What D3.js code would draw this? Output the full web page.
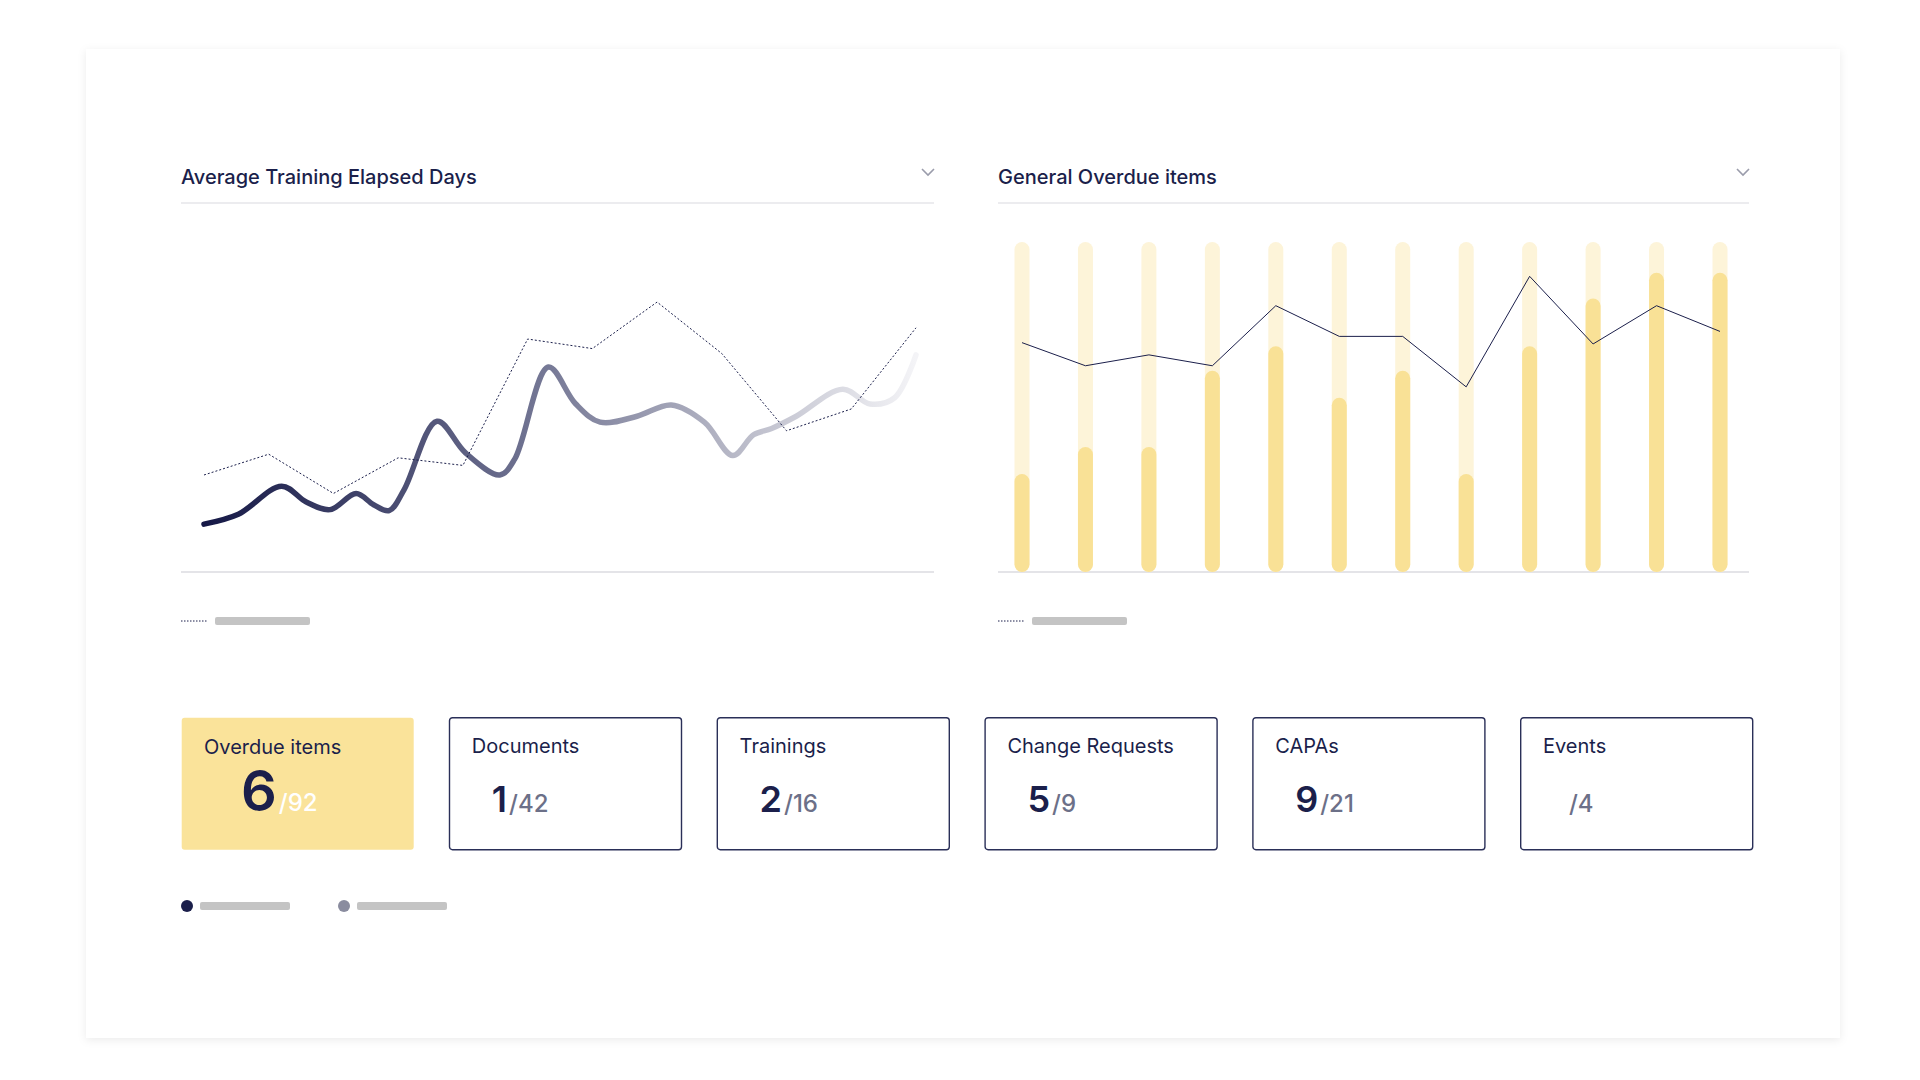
<!DOCTYPE html>
<html>
<head>
<meta charset="utf-8">
<script src="https://cdn.jsdelivr.net/npm/d3@7"></script>
<style>
  body { margin: 0; background: #fff; font-family: Inter, "Noto Sans", sans-serif; }
</style>
</head>
<body>
<svg id="chart" width="1920" height="1080"></svg>
<script>
// training chart: dotted average, index 0..11
const trainingAvg = [29.4, 35.7, 23.8, 34.6, 32.3, 70.6, 67.7, 81.8, 66.2, 42.8, 49.4, 74];
// thick curve, [x index, value]
const trainingX = [0, 0.53, 1.2, 1.58, 1.95, 2.35, 2.62, 2.86, 3.09, 3.6, 4.04, 4.57, 4.8, 5.32, 5.74, 6.12, 6.69, 7.22, 7.73, 8.17, 8.49, 8.77, 9.15, 9.87, 10.29, 10.67, 11];
const trainingY = [14.5, 17.5, 26, 21.2, 18.9, 23.8, 20.4, 18.6, 24.9, 45.7, 36.1, 29.4, 34.2, 62.1, 51, 45.4, 47.2, 50.6, 45.4, 35.3, 41.6, 43.5, 47.2, 55.4, 50.9, 52.8, 65.8];

const months = d3.range(12);
const overdueBars = [29.7, 37.9, 37.9, 61, 68.4, 52.8, 61, 29.7, 68.4, 82.9, 90.7, 90.7];
const overdueLine = [69.5, 62.5, 65.8, 62.5, 80.7, 71.4, 71.4, 56.1, 89.6, 69.1, 80.7, 72.9];

const cards = ['Overdue items', 'Documents', 'Trainings', 'Change Requests', 'CAPAs', 'Events'];
const cardValue = ['6', '1', '2', '5', '9', ''];
const cardTotal = ['/92', '/42', '/16', '/9', '/21', '/4'];

const navy = '#1b1f4b';
const svg = d3.select('#chart');

// panel
const defs = svg.append('defs');
const sh = defs.append('filter').attr('id', 'sh').attr('x', -0.05).attr('y', -0.05).attr('width', 1.1).attr('height', 1.1);
sh.append('feDropShadow').attr('dx', 0).attr('dy', 2).attr('stdDeviation', 4).attr('flood-color', '#000').attr('flood-opacity', 0.08);
svg.append('rect').attr('x', 86).attr('y', 49).attr('width', 1754).attr('height', 989).attr('fill', '#fff').attr('filter', 'url(#sh)');

function header(x0, x1, title) {
  svg.append('text').attr('x', x0).attr('y', 184).attr('fill', navy)
    .attr('font-size', 20).attr('font-weight', 500).text(title);
  svg.append('line').attr('x1', x0).attr('x2', x1).attr('y1', 203).attr('y2', 203)
    .attr('stroke', '#ececef').attr('stroke-width', 2);
  svg.append('path').attr('d', `M${x1 - 12},169 l6,6 l6,-6`).attr('fill', 'none')
    .attr('stroke', '#9a9cab').attr('stroke-width', 1.6);
}
header(181, 934, 'Average Training Elapsed Days');
header(998, 1749, 'General Overdue items');

const y = d3.scaleLinear().domain([0, 100]).range([572, 242]);

// left chart
const xL = d3.scaleLinear().domain([0, 11]).range([204, 916]);
svg.append('line').attr('x1', 181).attr('x2', 934).attr('y1', 572).attr('y2', 572)
  .attr('stroke', '#e4e4e8').attr('stroke-width', 2);
const grad = defs.append('linearGradient').attr('id', 'g').attr('gradientUnits', 'userSpaceOnUse')
  .attr('x1', xL(0)).attr('x2', xL(11)).attr('y1', 0).attr('y2', 0);
grad.append('stop').attr('offset', 0).attr('stop-color', '#151846');
grad.append('stop').attr('offset', 0.45).attr('stop-color', '#6e7190');
grad.append('stop').attr('offset', 0.75).attr('stop-color', '#b9bac8');
grad.append('stop').attr('offset', 1).attr('stop-color', '#f4f4f7');
const thick = trainingX.map((d, i) => [d, trainingY[i]]);
svg.append('path').datum(thick)
  .attr('d', d3.line().x(d => xL(d[0])).y(d => y(d[1])).curve(d3.curveCatmullRom.alpha(0.5)))
  .attr('fill', 'none').attr('stroke', 'url(#g)').attr('stroke-width', 5.5)
  .attr('stroke-linecap', 'round').attr('stroke-linejoin', 'round');
svg.append('path').datum(trainingAvg)
  .attr('d', d3.line().x((d, i) => xL(i)).y(d => y(d)))
  .attr('fill', 'none').attr('stroke', navy).attr('stroke-width', 1).attr('stroke-dasharray', '2,2');

// right chart
const xR = d3.scalePoint().domain(months).range([1022, 1720]);
svg.append('line').attr('x1', 998).attr('x2', 1749).attr('y1', 572).attr('y2', 572)
  .attr('stroke', '#e4e4e8').attr('stroke-width', 2);
const bw = 15;
svg.selectAll('.bg').data(months).join('rect').attr('class', 'bg')
  .attr('x', d => xR(d) - bw / 2).attr('y', y(100)).attr('width', bw).attr('height', y(0) - y(100))
  .attr('rx', bw / 2).attr('fill', '#fdf4d9');
svg.selectAll('.bar').data(overdueBars).join('rect').attr('class', 'bar')
  .attr('x', (d, i) => xR(i) - bw / 2).attr('y', d => y(d)).attr('width', bw).attr('height', d => y(0) - y(d))
  .attr('rx', bw / 2).attr('fill', '#f9e196');
svg.append('path').datum(overdueLine)
  .attr('d', d3.line().x((d, i) => xR(i)).y(d => y(d)))
  .attr('fill', 'none').attr('stroke', navy).attr('stroke-width', 1);

// legends
[181, 998].forEach(x0 => {
  svg.append('line').attr('x1', x0).attr('x2', x0 + 27).attr('y1', 621).attr('y2', 621)
    .attr('stroke', navy).attr('stroke-width', 1).attr('stroke-dasharray', '1.5,1.5');
  svg.append('rect').attr('x', x0 + 34).attr('y', 617).attr('width', 95).attr('height', 8).attr('rx', 2).attr('fill', '#c4c4c4');
});

// cards
const cw = 232, ch = 132, cy = 717;
const cx = d3.scaleLinear().domain([0, 5]).range([181, 1520]);
const g = svg.selectAll('.card').data(cards).join('g').attr('transform', (d, i) => `translate(${cx(i)},${cy})`);
g.append('rect').attr('width', cw).attr('height', ch).attr('rx', 3)
  .attr('fill', (d, i) => i === 0 ? '#fae39a' : '#fff')
  .attr('stroke', (d, i) => i === 0 ? 'none' : '#2a2f58').attr('stroke-width', 1.4)
  .attr('x', 0.7).attr('y', 0.7);
g.append('text').attr('x', 23).attr('y', (d, i) => i === 0 ? 37 : 36).attr('font-size', 20)
  .attr('fill', navy).text(d => d);
g.each(function (d, i) {
  const t = d3.select(this).append('text').attr('x', i === 0 ? 60 : 43).attr('y', i === 0 ? 94 : 95);
  t.append('tspan').attr('font-size', i === 0 ? 56 : 36).attr('font-weight', 600).attr('fill', navy).text(cardValue[i]);
  t.append('tspan').attr('font-size', 24).attr('font-weight', 500)
    .attr('fill', i === 0 ? '#ffffff' : '#6c7088').attr('dx', i === 5 ? 6 : 2).text(cardTotal[i]);
});

// bottom legend
[[187, navy], [344, '#8a8c9f']].forEach(([x0, c]) => {
  svg.append('circle').attr('cx', x0).attr('cy', 906).attr('r', 6).attr('fill', c);
  svg.append('rect').attr('x', x0 + 13).attr('y', 902).attr('width', 90).attr('height', 8).attr('rx', 2).attr('fill', '#c4c4c4');
});
</script>
</body>
</html>
